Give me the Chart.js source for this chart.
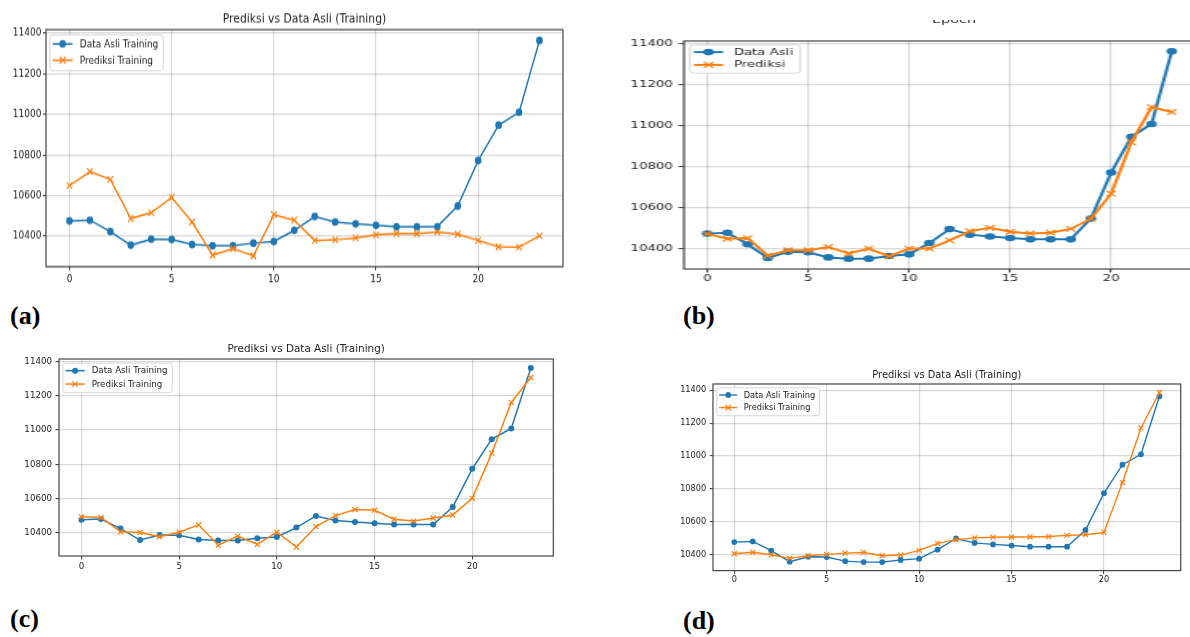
<!DOCTYPE html>
<html>
<head>
<meta charset="utf-8">
<script src="https://cdn.jsdelivr.net/npm/chart.js@4.4.1/dist/chart.umd.min.js"></script>
<style>
  html, body { margin: 0; padding: 0; background: #fff; }
  body { position: relative; width: 1190px; height: 637px; overflow: hidden; }
  .panel { position: absolute; transform-origin: 0 0; }
  .tag { position: absolute; font-family: "Liberation Serif", "Times New Roman", serif; font-weight: bold; font-size: 26px; line-height: 1; color: #000; }
  .clip { position: absolute; overflow: hidden; }
  .clip span { position: absolute; left: 0; white-space: nowrap; font-family: "DejaVu Sans", sans-serif; color: #333; transform-origin: 0 0; }
</style>
</head>
<body>
<div id="pa" class="panel"><canvas id="ca"></canvas></div>
<div id="pb" class="panel"><canvas id="cb"></canvas></div>
<div id="pc" class="panel"><canvas id="cc"></canvas></div>
<div id="pd" class="panel"><canvas id="cd"></canvas></div>

<div class="clip" style="left:932px;top:20px;width:50px;height:7px;"><span style="top:-5px;font-size:9px;transform:scaleX(1.6);">Epoch</span></div>

<div class="tag" style="left:10px;top:303px;">(a)</div>
<div class="tag" style="left:683px;top:303px;">(b)</div>
<div class="tag" style="left:10px;top:606px;">(c)</div>
<div class="tag" style="left:683px;top:608px;">(d)</div>

<script>
// epochs on the x axis
const epochs = [0, 1, 2, 3, 4, 5, 6, 7, 8, 9, 10, 11, 12, 13, 14, 15, 16, 17, 18, 19, 20, 21, 22, 23];

// actual training data (same in every panel)
const actual = [10475, 10479, 10423, 10356, 10386, 10384, 10359, 10353, 10353, 10366, 10374, 10429,
                10497, 10470, 10461, 10454, 10447, 10447, 10447, 10549, 10773, 10947, 11010, 11364];

// predictions of each model
const predA = [10649, 10718, 10680, 10487, 10516, 10591, 10470, 10307, 10339, 10303, 10506, 10479,
               10379, 10382, 10392, 10407, 10413, 10413, 10421, 10410, 10379, 10348, 10346, 10402];
const predB = [10474, 10450, 10453, 10368, 10394, 10394, 10410, 10378, 10402, 10364, 10402, 10402,
               10442, 10487, 10503, 10484, 10476, 10479, 10498, 10548, 10670, 10920, 11092, 11068];
const predC = [10492, 10488, 10404, 10400, 10375, 10402, 10445, 10326, 10379, 10330, 10402, 10315,
               10435, 10499, 10535, 10530, 10478, 10467, 10485, 10503, 10601, 10865, 11162, 11308];
const predD = [10404, 10413, 10398, 10376, 10392, 10400, 10408, 10412, 10392, 10396, 10425, 10467,
               10490, 10501, 10505, 10506, 10506, 10509, 10516, 10520, 10534, 10838, 11171, 11387];

// tick labels
const xTicks = [0, 5, 10, 15, 20];
const yTicks = [10400, 10600, 10800, 11000, 11200, 11400];

const BLUE = '#1f77b4';
const ORANGE = '#ff7f0e';
const FONT = '"DejaVu Sans", sans-serif';

// matplotlib-like limits: data range plus 5% on each side
function bounds(vals) {
    const lo = Math.min(...vals), hi = Math.max(...vals), m = (hi - lo) * 0.05;
    return [lo - m, hi + m];
}

function drawMarker(ctx, style, x, y, r, color, lw) {
    ctx.save();
    ctx.fillStyle = color;
    ctx.strokeStyle = color;
    ctx.lineWidth = lw;
    ctx.beginPath();
    if (style === 'circle') {
        ctx.arc(x, y, r, 0, Math.PI * 2);
        ctx.fill();
    } else {
        const d = r * 0.75;
        ctx.moveTo(x - d, y - d); ctx.lineTo(x + d, y + d);
        ctx.moveTo(x - d, y + d); ctx.lineTo(x + d, y - d);
        ctx.stroke();
    }
    ctx.restore();
}

// box around the plot area (spines)
const frame = {
    id: 'frame',
    afterDatasetsDraw(chart) {
        const { ctx, chartArea: a } = chart;
        ctx.save();
        ctx.strokeStyle = '#444';
        ctx.lineWidth = 1.2;
        ctx.strokeRect(a.left, a.top, a.right - a.left, a.bottom - a.top);
        ctx.restore();
    }
};

// legend drawn inside the axes, upper left, like matplotlib
const mplLegend = {
    id: 'mplLegend',
    afterDatasetsDraw(chart, args, opts) {
        const { ctx, chartArea: a } = chart;
        const fs = opts.fs;
        const sets = chart.data.datasets;
        ctx.save();
        ctx.font = fs + 'px ' + FONT;
        const textW = Math.max(...sets.map(d => ctx.measureText(d.label).width));
        const bx = a.left + 0.45 * fs, by = a.top + 0.47 * fs;
        const bw = 3.3 * fs + textW + 0.55 * fs, bh = 3.4 * fs, rr = 0.3 * fs;
        ctx.beginPath();
        ctx.moveTo(bx + rr, by);
        ctx.arcTo(bx + bw, by, bx + bw, by + bh, rr);
        ctx.arcTo(bx + bw, by + bh, bx, by + bh, rr);
        ctx.arcTo(bx, by + bh, bx, by, rr);
        ctx.arcTo(bx, by, bx + bw, by, rr);
        ctx.closePath();
        ctx.fillStyle = 'rgba(255,255,255,0.85)';
        ctx.fill();
        ctx.strokeStyle = '#d6d6d6';
        ctx.lineWidth = 1;
        ctx.stroke();
        sets.forEach((d, i) => {
            const y = a.top + (1.34 + i * 1.54) * fs;
            ctx.strokeStyle = d.borderColor;
            ctx.lineWidth = d.borderWidth;
            ctx.beginPath();
            ctx.moveTo(a.left + 0.75 * fs, y);
            ctx.lineTo(a.left + 2.95 * fs, y);
            ctx.stroke();
            drawMarker(ctx, d.pointStyle, a.left + 1.85 * fs, y, d.pointRadius, d.borderColor, d.pointBorderWidth);
            ctx.fillStyle = '#222';
            ctx.textAlign = 'left';
            ctx.textBaseline = 'middle';
            ctx.fillText(d.label, a.left + 3.75 * fs, y + 0.05 * fs);
        });
        ctx.restore();
    }
};

const panelTitle = {
    id: 'panelTitle',
    afterDraw(chart, args, opts) {
        if (!opts.text) return;
        const { ctx, chartArea: a } = chart;
        ctx.save();
        ctx.font = opts.size + 'px ' + FONT;
        ctx.fillStyle = '#222';
        ctx.textAlign = 'center';
        ctx.textBaseline = 'middle';
        ctx.fillText(opts.text, (a.left + a.right) / 2, a.top - opts.gap);
        ctx.restore();
    }
};

const panels = [
    { host: 'pa', canvas: 'ca', pred: predA, names: ['Data Asli Training', 'Prediksi Training'],
      title: 'Prediksi vs Data Asli (Training)', area: { l: 46, t: 30, r: 563, b: 267 },
      sx: 1, sy: 1.18, fs: 9, titleFs: 10.8, titleGap: 9.3, tick: 3, padX: 2.5, padY: 1.5, radius: 3.3, lw: 1.5 },
    { host: 'pb', canvas: 'cb', pred: predB, names: ['Data Asli', 'Prediksi'],
      title: '', area: { l: 684, t: 41, r: 1195, b: 269 },
      sx: 1.6, sy: 1, fs: 8.3, titleFs: 10, titleGap: 10, tick: 3.5, padX: 1.8, padY: 3.5, radius: 3.3, lw: 2 },
    { host: 'pc', canvas: 'cc', pred: predC, names: ['Data Asli Training', 'Prediksi Training'],
      title: 'Prediksi vs Data Asli (Training)', area: { l: 59, t: 359, r: 553.3, b: 556 },
      sx: 1, sy: 1, fs: 8.7, titleFs: 10.4, titleGap: 10, tick: 3.5, padX: 2, padY: 3.5, radius: 3, lw: 1.5 },
    { host: 'pd', canvas: 'cd', pred: predD, names: ['Data Asli Training', 'Prediksi Training'],
      title: 'Prediksi vs Data Asli (Training)', area: { l: 713, t: 383.7, r: 1180.7, b: 570.3 },
      sx: 1, sy: 1, fs: 8.2, titleFs: 9.85, titleGap: 8.7, tick: 3.3, padX: 1.5, padY: 3.5, radius: 2.9, lw: 1.4 }
];

const PAD_L = 50, PAD_T = 26;

panels.forEach(p => {
    const aw = (p.area.r - p.area.l) / p.sx;
    const ah = (p.area.b - p.area.t) / p.sy;
    const W = Math.ceil(PAD_L + aw + 8);
    const H = Math.ceil(PAD_T + ah + 26);
    const padR = W - PAD_L - aw;
    const padB = H - PAD_T - ah;

    const host = document.getElementById(p.host);
    host.style.left = (p.area.l - PAD_L * p.sx) + 'px';
    host.style.top = (p.area.t - PAD_T * p.sy) + 'px';
    host.style.width = W + 'px';
    host.style.height = H + 'px';
    host.style.transform = 'scale(' + p.sx + ',' + p.sy + ')';

    const cv = document.getElementById(p.canvas);
    cv.width = W; cv.height = H;
    cv.style.width = W + 'px'; cv.style.height = H + 'px';

    const [xMin, xMax] = bounds(epochs);
    const [yMin, yMax] = bounds(actual.concat(p.pred));
    const tickFont = { family: FONT, size: p.fs };
    const grid = { color: 'rgba(0,0,0,0.15)', lineWidth: 1.2, tickLength: p.tick, tickColor: '#333', tickWidth: 1 };

    new Chart(cv, {
        type: 'line',
        data: {
            datasets: [
                { label: p.names[0], data: epochs.map((e, i) => ({ x: e, y: actual[i] })),
                  borderColor: BLUE, backgroundColor: BLUE, pointBackgroundColor: BLUE, pointBorderColor: BLUE,
                  pointStyle: 'circle', pointRadius: p.radius, pointBorderWidth: 0, borderWidth: p.lw, tension: 0, order: 1 },
                { label: p.names[1], data: epochs.map((e, i) => ({ x: e, y: p.pred[i] })),
                  borderColor: ORANGE, backgroundColor: ORANGE, pointBorderColor: ORANGE,
                  pointStyle: 'crossRot', pointRadius: p.radius + 0.6, pointBorderWidth: 1.2, borderWidth: p.lw, tension: 0, order: 0 }
            ]
        },
        options: {
            responsive: false,
            animation: false,
            devicePixelRatio: 1,
            events: [],
            layout: { padding: { left: 0, top: PAD_T, right: padR, bottom: 0 } },
            scales: {
                x: {
                    type: 'linear', min: xMin, max: xMax,
                    afterBuildTicks: s => { s.ticks = xTicks.map(v => ({ value: v })); },
                    afterFit: s => { s.height = padB; },
                    ticks: { autoSkip: false, maxRotation: 0, color: '#222', font: tickFont, padding: p.padX,
                             callback: v => String(v) },
                    grid: grid,
                    border: { display: false }
                },
                y: {
                    type: 'linear', min: yMin, max: yMax,
                    afterBuildTicks: s => { s.ticks = yTicks.map(v => ({ value: v })); },
                    afterFit: s => { s.width = PAD_L; },
                    ticks: { autoSkip: false, color: '#222', font: tickFont, padding: p.padY,
                             callback: v => String(v) },
                    grid: grid,
                    border: { display: false }
                }
            },
            plugins: {
                legend: { display: false },
                tooltip: { enabled: false },
                mplLegend: { fs: p.fs },
                panelTitle: { text: p.title, size: p.titleFs, gap: p.titleGap }
            }
        },
        plugins: [frame, mplLegend, panelTitle]
    });
});
</script>
</body>
</html>
